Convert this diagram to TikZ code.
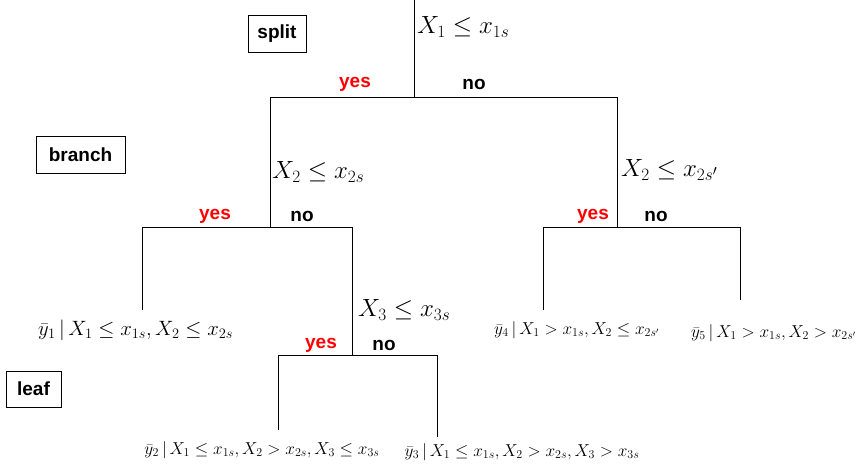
\documentclass[tikz,border=0pt]{standalone}
\usepackage{fontspec}
\setsansfont{Liberation Sans}
\usepackage{amssymb}
\begin{document}
\begin{tikzpicture}[x=1pt,y=-1pt,
  ln/.style={line width=0.7pt},
  yesl/.style={font=\sffamily\bfseries\fontsize{19}{19}\selectfont,text=red,inner sep=0},
  nol/.style={font=\sffamily\bfseries\fontsize{19}{19}\selectfont,inner sep=0},
  big/.style={font=\fontsize{27}{27}\selectfont,anchor=west,inner sep=0},
  small/.style={font=\fontsize{17}{17}\selectfont,inner sep=0},
  boxl/.style={draw,line width=0.7pt,font=\sffamily\bfseries\fontsize{19}{19}\selectfont,minimum height=37pt,inner sep=0}]
\useasboundingbox (0,0) rectangle (862,465);
\coordinate (t0) at (414,0); \coordinate (t1) at (414,97);
\coordinate (h1a) at (270,97); \coordinate (h1b) at (617,97);
\coordinate (l2) at (270,227); \coordinate (r2) at (617,227);
\coordinate (h2a) at (142,227); \coordinate (h2b) at (352,227);
\coordinate (l3) at (142,310); \coordinate (m3) at (352,355);
\coordinate (h3a) at (278,355); \coordinate (h3b) at (437,355);
\coordinate (l4) at (278,430); \coordinate (r4) at (437,437);
\coordinate (h4a) at (543,227); \coordinate (h4b) at (740,227);
\coordinate (l5) at (543,310); \coordinate (r5) at (740,300);
\draw[ln] (t0)--(t1) (h1a)--(h1b) (h1a)--(l2) (h1b)--(r2)
  (h2a)--(h2b) (h2a)--(l3) (h2b)--(m3) (h3a)--(h3b) (h3a)--(l4) (h3b)--(r4)
  (h4a)--(h4b) (h4a)--(l5) (h4b)--(r5);
\node[big] (s1) at (417,27) {$X_1\leq x_{1s}$};
\node[big] (s2) at (272,172) {$X_2\leq x_{2s}$};
\node[big] (s3) at (621,170) {$X_2\leq x_{2s'}$};
\node[big] (s4) at (358,310) {$X_3\leq x_{3s}$};
\node[yesl] (y1) at (355,84) {yes}; \node[nol] (n1) at (474,84) {no};
\node[yesl] (y2) at (215,216) {yes}; \node[nol] (n2) at (302,216) {no};
\node[yesl] (y3) at (321,345) {yes}; \node[nol] (n3) at (384,345) {no};
\node[yesl] (y4) at (593,216) {yes}; \node[nol] (n4) at (656,216) {no};
\node[anchor=west,inner sep=0,font=\fontsize{21}{21}\selectfont] (L1) at (38,330) {$\bar y_1\,|\,X_1\leq x_{1s},X_2\leq x_{2s}$};
\node[small,anchor=west] (L4) at (494,330) {$\bar y_4\,|\,X_1> x_{1s},X_2\leq x_{2s'}$};
\node[small,anchor=west] (L5) at (691,333) {$\bar y_5\,|\,X_1> x_{1s},X_2> x_{2s'}$};
\node[small] (L2) at (262,450) {$\bar y_2\,|\,X_1\leq x_{1s},X_2> x_{2s},X_3\leq x_{3s}$};
\node[small] (L3) at (522,452) {$\bar y_3\,|\,X_1\leq x_{1s},X_2> x_{2s},X_3> x_{3s}$};
\node[boxl,minimum width=58pt] (bs) at (277,34) {split};
\node[boxl,minimum width=89pt] (bb) at (80.5,155) {branch};
\node[boxl,minimum width=55pt,minimum height=36pt] (bl) at (33.5,389) {leaf};
\end{tikzpicture}
\end{document}
